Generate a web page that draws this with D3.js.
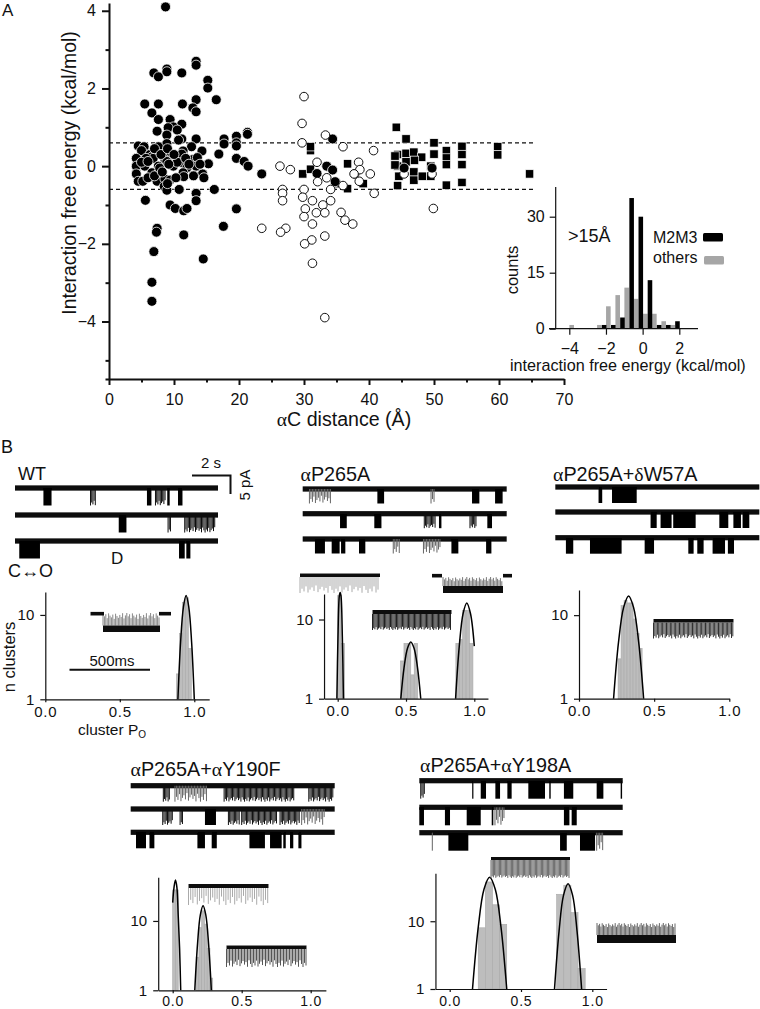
<!DOCTYPE html>
<html><head><meta charset="utf-8">
<style>
html,body{margin:0;padding:0;background:#fff}
svg{display:block}
text{font-family:"Liberation Sans",Arial,sans-serif;fill:#111}
.sym{font-family:"Liberation Serif",serif}
</style>
<script src="https://cdn.jsdelivr.net/npm/d3@7/dist/d3.min.js"></script>
</head><body><svg id="c" width="760" height="1009"></svg>
<script>
// ---------- panel A data: [distance Å, interaction free energy]
const filledCircles=[[8.7,4.1],[13.4,2.7],[13.4,2.6],[6.9,2.4],[8.9,2.5],[8.9,2.43],[7.6,2.3],[11.2,2.4],[15.2,2.21],[15.2,2.01],[5.5,1.6],[7.6,1.6],[11.3,1.6],[13.4,1.71],[16.5,1.71],[6.6,1.37],[12.9,1.5],[13.4,1.4],[7.6,1.2],[9.4,1.2],[11.2,1.08],[9.9,1.01],[9.1,.99],[10.5,.93],[7.4,.9],[8.9,.8],[13.4,.7],[11.2,.7],[10.7,.67],[17.7,.7],[19.6,.77],[21.3,.87],[21.3,.82],[8.9,.58],[17.7,.57],[19.6,.6],[19.6,.52],[4.5,.52],[5.4,.5],[7.6,.5],[12.7,.5],[5,.4],[11.4,.39],[14.3,.39],[16.9,.31],[6.3,.3],[6.6,.24],[9.4,.28],[11.2,.31],[4.2,.2],[6.8,.2],[8.6,.17],[8.9,.12],[12.9,.17],[13.6,.22],[19.6,.2],[20.8,.12],[11.2,.09],[4.2,0],[5.5,0],[7.6,0],[9.9,0],[13.4,0],[15.3,.06],[21.4,0],[12,-.04],[4.2,-.2],[6.6,-.17],[7.6,-.19],[11.4,-.17],[11.5,-.27],[14.4,-.2],[14.6,-.3],[23.5,-.2],[4.5,-.39],[5.2,-.39],[7.4,-.39],[8.6,-.33],[9.4,-.36],[8.5,-.52],[8.9,-.62],[10.8,-.6],[16.2,-.6],[13.4,-.7],[13.4,-.89],[5.6,-.88],[9.4,-1],[10.2,-1.09],[11.5,-1.15],[12,-1.09],[19.6,-1.1],[7.4,-1.6],[7.3,-1.7],[11.5,-1.77],[17.6,-1.55],[6.9,-2.2],[14.5,-2.39],[6.6,-2.99],[6.6,-3.48],[34.4,.7],[33.5,0],[34.4,-.1],[32,-.19],[34.8,-.4],
 [5.7,.2],[7,.45],[8,.3],[9,.45],[10.5,.1],[10,.3],[6,-.3],[7,-.25],[7.8,-.05],[10.3,-.3],[9,-.45],[5,.1],[11.8,.2],[12.3,.05],[8.2,-.15],[6,.12],[9.2,.05],[13,-.25],[14,.05]];
const openCircles=[[30,1.79],[29.7,1.1],[29.7,.6],[33.3,.8],[36,.5],[26.3,0],[27.9,-.09],[32,.1],[38.4,.1],[37.8,-.2],[38.5,-.39],[33.5,-.3],[32.1,-.4],[36,-.5],[34.1,-.6],[30,-.6],[26.7,-.6],[26.7,-.7],[26.7,-.89],[29.8,-.8],[31.3,-.89],[34.1,-.89],[32.9,-1],[30.2,-1.1],[31.9,-1.2],[33.2,-1.2],[35.7,-1.19],[30,-1.3],[36.3,-1.39],[31.3,-1.49],[37.5,-1.49],[23.5,-1.6],[27.2,-1.6],[26.4,-1.7],[33.2,-1.8],[31.2,-1.9],[30.1,-2],[31.3,-2.5],[33.2,-3.9],[40.7,.4],[38.6,-.09],[37.7,-.2],[40.2,-.2],[40.8,-.7],[49.9,-1.09],[45.4,-.2],[49.7,-.2]];
const filledOnTop=[[45.4,-.05],[49.7,-.05]];
const squares=[[44.2,1],[45.7,.7],[50,.6],[54.3,.51],[59.8,.5],[59.8,.29],[44.4,.3],[45.7,.33],[46.9,.36],[48.1,.23],[50,.31],[51.9,.4],[51.9,.21],[51.9,.04],[54.3,.3],[54.3,.04],[36.7,.06],[45.7,.11],[47,.15],[44.4,0],[46.9,-.15],[46.9,-.36],[48.2,-.26],[44.6,-.26],[49.5,-.26],[49.5,0],[44.4,-.5],[51.9,-.49],[54.3,-.42],[64.7,-.2],[39.1,-.45],[36.7,-.58],[44,.26],[44,.03],[31,.4],[31,.5],[29.8,-.2],[31,-.08],[35,-.45]];
const thresholds=[.6,-.6];
const xTicksA=[0,10,20,30,40,50,60,70];
const xMinorA=[5,15,25,35,45,55,65];
const yTicksA=[-4,-2,0,2,4];
const yMinorA=[-5.48,-5,-3,-1,1,3];
// inset histogram [energy bin centre, count]
const m2m3Bins=[[-2.1,1],[-1.6,1],[-1.1,3],[-.6,35],[-.1,30],[.4,13],[.9,1],[1.4,1],[1.9,2]];
const otherBins=[[-3.87,1],[-2.36,1],[-1.87,6],[-1.36,9],[-.87,11],[-.36,8],[.15,4],[.64,4],[1.15,2],[1.64,1]];
const insetBinWidth=.25;
// ---------- panel B traces: [start %, end %, kind] s solid, f flicker, g faint
const wtTraces=[[[14,18,'s'],[37.2,39.8,'f'],[65,67.2,'s'],[69.2,74.1,'f'],[75,76.2,'s'],[80.3,82.5,'s']],[[51.1,54.9,'s'],[75.4,76.6,'f'],[83.6,98.4,'f']],[[2.1,12.3,'s'],[80.8,83.6,'s'],[84.4,86.4,'s']]];
const p265Traces=[[[3.3,14.2,'g'],[36.6,39.9,'s'],[62.9,65,'g'],[83,86.6,'s'],[94.3,98,'s']],[[18.3,21.6,'s'],[35.1,38.6,'s'],[59.6,65,'f'],[66.8,68,'s'],[82,85.3,'f'],[90.5,92.8,'s']],[[6,10.9,'s'],[14.2,18.1,'s'],[18.8,20.9,'s'],[27.6,30.7,'s'],[44.4,48,'g'],[59.2,67.3,'g'],[72.9,76.3,'s'],[89.9,92.5,'s']]];
const w57Traces=[[[21.2,23,'s'],[27.8,39.9,'s']],[[46.7,49.7,'s'],[51.6,57,'s'],[57.8,68.8,'s'],[80.4,84.8,'s'],[87.3,91,'s'],[91.8,95.1,'s']],[[5.2,8.8,'s'],[17,32.5,'s'],[43.8,48.4,'s'],[65.2,67.8,'s'],[69.6,72.7,'s'],[77.1,83.2,'s'],[84.6,87.6,'s']]];
const y190Traces=[[[16,19,'f'],[21.7,37.6,'g'],[45.8,80.1,'f'],[87.3,99.3,'f']],[[15.7,20.6,'f'],[24.2,25.8,'f'],[36.4,41.8,'s'],[47.9,53.3,'f'],[54.4,71.6,'f'],[73.2,83,'f'],[83.8,95.3,'g']],[[2.6,7.5,'s'],[9.2,11.6,'s'],[32.7,36.4,'s'],[39.7,42.2,'s'],[58.2,65.8,'s'],[68.3,74,'s'],[74.8,76,'s'],[78.1,79.7,'s'],[82.2,83.7,'s']]];
const y198Traces=[[[.7,2.6,'f'],[26,26.6,'s'],[30.2,32.8,'s'],[37.4,39.7,'s'],[43.3,45.4,'s'],[53.6,61.8,'s'],[63.9,64.6,'s'],[71.1,75.7,'s'],[87.2,90.5,'s'],[99,99.7,'s']],[[0,2.3,'s'],[12.6,15.1,'s'],[23.3,30.2,'s'],[35.6,36.4,'s'],[37.2,42.1,'g'],[71.1,73.8,'s'],[74.9,77.4,'s']],[[6.4,6.7,'g'],[14.3,24.1,'s'],[69.2,72.5,'s'],[79,86.4,'s'],[87.2,90.5,'g']]];
// ---------- cluster Po histograms: bars [left edge, count]; fits [Po, count]
const wtBars=[[.88,2],[.90,6],[.92,14],[.94,16],[.96,4]];
const wtFits=[[[.89,1],[.908,4.75],[.927,12.4],[.945,17],[.963,12.4],[.982,4.75],[1,1]]];
const p265Bars=[[0,20],[.025,5],[.46,3],[.485,5],[.51,5],[.535,2],[.56,5],[.865,5],[.89,5.6],[.915,13],[.94,13],[.965,5]];
const p265Fits=[[[-.006,1],[.002,6],[.012,20],[.018,22],[.024,20],[.034,6],[.042,1]],[[.462,1],[.486,2.48],[.511,4.34],[.535,5.2],[.559,4.34],[.584,2.48],[.608,1]],[[.863,1],[.89,4.62],[.918,11.9],[.945,16.2],[.972,11.9],[1,4.62]]];
const w57Bars=[[.26,3],[.28,13],[.30,15],[.32,14],[.34,14],[.36,9],[.38,6],[.40,4]];
const w57Fits=[[[.23,1],[.263,4.75],[.297,12.4],[.33,17],[.363,12.4],[.397,4.75],[.43,1]]];
const y190Bars=[[0,28],[.02,28],[.17,3],[.19,8],[.21,14],[.23,9],[.25,4],[.27,1.5]];
const y190Fits=[[[0,18.4],[.01,31],[.02,39],[.03,31],[.04,12],[.05,4],[.058,1]],[[.16,1],[.18,4.67],[.2,12.1],[.22,16.5],[.24,12.1],[.26,4.67],[.28,1]]];
const y198Bars=[[.2,8],[.25,38],[.3,17.5],[.35,9],[.75,25],[.8,34],[.85,13.4],[.9,2]];
const y198Fits=[[[.16,1],[.2,8.1],[.24,29.4],[.28,44.7],[.32,29.4],[.36,8.1],[.4,1]],[[.735,1],[.767,7.15],[.798,24.1],[.83,35.7],[.862,24.1],[.893,7.15],[.925,1]]];
const poTicks=[0,.5,1];
const countTicks=[1,10];
// relative lengths of the flicker spikes seen in the close-ups
const spikeLengths=[1,.62,.86,.41,.96,.7,.5,.82,.33,.92,.66,.45,.78,.55,.98,.38,.72];

// ---------- drawing
const svg=d3.select('#c');
const defs=svg.append('defs');
defs.append('filter').attr('id','soft').attr('x','-5%').attr('y','-20%').attr('width','110%').attr('height','140%')
  .append('feGaussianBlur').attr('stdDeviation',.45);

function label(x,y,t,size,anchor,rot){
  const e=svg.append('text').attr('x',x).attr('y',y).attr('font-size',size).attr('text-anchor',anchor||'start').text(t);
  if(rot) e.attr('transform',`rotate(-90 ${x} ${y})`);
  return e;
}
function rich(x,y,parts,size,anchor){
  const e=svg.append('text').attr('x',x).attr('y',y).attr('font-size',size).attr('text-anchor',anchor||'start');
  parts.forEach(p=>{const t=e.append('tspan').text(p[0]); if(p[1]) t.attr('class','sym');});
  return e;
}
function styleAxis(g,w,fs){
  g.selectAll('path,line').attr('stroke','#111').attr('stroke-width',w);
  g.selectAll('text').attr('font-size',fs).attr('fill','#111');
}
// --- Panel A
const xA=d3.scaleLinear().domain([0,70]).range([109,564]);
const yA=d3.scaleLinear().domain([-5.48,4.2]).range([379,3]);
label(2,16,'A',17);
svg.append('g').selectAll('line').data(thresholds).join('line')
  .attr('x1',xA(0)).attr('x2',535).attr('y1',yA).attr('y2',yA)
  .attr('stroke','#111').attr('stroke-width',1.2).attr('stroke-dasharray','4 3');
const sqSize=8.4;
svg.append('g').selectAll('rect').data(squares).join('rect')
  .attr('x',d=>xA(d[0])-sqSize/2).attr('y',d=>yA(d[1])-sqSize/2).attr('width',sqSize).attr('height',sqSize)
  .attr('fill','#000').attr('stroke','#fff').attr('stroke-width',.7);
function dots(data,fill,stroke,sw,r){
  svg.append('g').selectAll('circle').data(data).join('circle')
   .attr('cx',d=>xA(d[0])).attr('cy',d=>yA(d[1])).attr('r',r)
   .attr('fill',fill).attr('stroke',stroke).attr('stroke-width',sw);
}
dots(filledCircles,'#000','#fff',.8,5);
dots(openCircles,'#fff','#111',1,4.3);
dots(filledOnTop,'#000','#fff',.8,5);
const axXA=svg.append('g').attr('transform',`translate(0,${yA(-5.48)})`)
  .call(d3.axisBottom(xA).tickValues(xTicksA).tickSize(6).tickSizeOuter(0));
styleAxis(axXA,2,16);axXA.selectAll('text').attr('dy','17px');
const axXAm=svg.append('g').attr('transform',`translate(0,${yA(-5.48)})`)
  .call(d3.axisBottom(xA).tickValues(xMinorA).tickSize(3.5).tickSizeOuter(0).tickFormat(''));
styleAxis(axXAm,2,16);axXAm.select('.domain').remove();
const axYA=svg.append('g').attr('transform',`translate(${xA(0)},0)`)
  .call(d3.axisLeft(yA).tickValues(yTicksA).tickSize(7).tickSizeOuter(0).tickFormat(d3.format('d')));
styleAxis(axYA,2,16);axYA.selectAll('text').attr('dx','-3');
const axYAm=svg.append('g').attr('transform',`translate(${xA(0)},0)`)
  .call(d3.axisLeft(yA).tickValues(yMinorA).tickSize(3.5).tickSizeOuter(0).tickFormat(''));
styleAxis(axYAm,2,16);axYAm.select('.domain').remove();
label(76,173,'Interaction free energy (kcal/mol)',19.4,'middle',true);
rich(344,426,[['α',1],['C distance (Å)']],19.6,'middle');
// inset histogram
const xI=d3.scaleLinear().domain([-4,2]).range([569.3,679.3]);
const yI=d3.scaleLinear().domain([0,30]).range([328.7,216.7]);
const iw=xI(insetBinWidth)-xI(0);
function ibars(data,fill){
  svg.append('g').selectAll('rect').data(data).join('rect')
   .attr('x',d=>xI(d[0])-iw/2).attr('width',iw).attr('y',d=>yI(d[1])).attr('height',d=>yI(0)-yI(d[1])).attr('fill',fill);
}
ibars(otherBins,'#a6a6a6');ibars(m2m3Bins,'#000');
svg.append('line').attr('x1',549).attr('x2',698).attr('y1',yI(0)).attr('y2',yI(0)).attr('stroke','#111').attr('stroke-width',1.2);
svg.append('line').attr('x1',555.7).attr('x2',555.7).attr('y1',187).attr('y2',yI(0)).attr('stroke','#111').attr('stroke-width',1.2);
const axXI=svg.append('g').attr('transform',`translate(0,${yI(0)})`)
 .call(d3.axisBottom(xI).tickValues([-4,-2,0,2]).tickSize(6).tickSizeOuter(0).tickFormat(d3.format('d')));
styleAxis(axXI,1.2,16);axXI.select('.domain').remove();axXI.selectAll('text').attr('dy','16px');
const axYI=svg.append('g').attr('transform','translate(555.7,0)')
 .call(d3.axisLeft(yI).tickValues([0,15,30]).tickSize(6).tickSizeOuter(0));
styleAxis(axYI,1.2,16);axYI.select('.domain').remove();axYI.selectAll('text').attr('dx','-2');
label(510,371,'interaction free energy (kcal/mol)',16.2);
label(518,270,'counts',16.5,'middle',true);
label(568,242,'>15Å',18);
label(653,243,'M2M3',16);label(653,263,'others',16);
svg.append('rect').attr('x',703).attr('y',233).attr('width',20).attr('height',8.5).attr('rx',1.5).attr('fill','#000');
svg.append('rect').attr('x',704).attr('y',256).attr('width',20).attr('height',8.5).attr('rx',1.5).attr('fill','#a6a6a6');
// --- Panel B labels
label(1,453,'B',18);
label(18,480,'WT',18);
label(8,577,'C↔O',18);
label(111,564,'D',17);
label(211,468,'2 s',15,'middle');
svg.append('path').attr('d','M192 475.5H230.5V494').attr('fill','none').attr('stroke','#111').attr('stroke-width',2);
label(250,485,'5 pA',15,'middle',true);
label(112,666,'500ms',15,'middle');
svg.append('line').attr('x1',69.5).attr('x2',150).attr('y1',669.7).attr('y2',669.7).attr('stroke','#111').attr('stroke-width',2);
rich(300.5,481,[['α',1],['P265A']],19.8);
rich(553,481,[['α',1],['P265A+'],['δ',1],['W57A']],19.8);
rich(130.5,776,[['α',1],['P265A+'],['α',1],['Y190F']],19.8);
rich(420,772,[['α',1],['P265A+'],['α',1],['Y198A']],19.8);
label(15,657,'n clusters',16.5,'middle',true);
const po=svg.append('text').attr('x',112).attr('y',735).attr('font-size',15.5).attr('text-anchor','middle').text('cluster P');
po.append('tspan').attr('font-size',10).attr('dy',3).text('O');

// spikes: dir +1 hanging down from y, -1 rising up
function spikes(g,x0,x1,y,dir,reach,color,step,minLen){
  const xs=d3.range(x0,x1,step);
  g.selectAll(null).data(xs).join('line')
   .attr('x1',d=>d).attr('x2',d=>d).attr('y1',y)
   .attr('y2',(d,i)=>{const v=spikeLengths[i%spikeLengths.length];return y+dir*reach*(minLen+(1-minLen)*v);})
   .attr('stroke',color).attr('stroke-width',1);
}
function traces(rows,x0,x1,ys,depth){
  const x=d3.scaleLinear().domain([0,100]).range([x0,x1]);
  const g0=svg.append('g').attr('filter','url(#soft)');
  rows.forEach((row,i)=>{
    g0.append('rect').attr('x',x(0)).attr('width',x(100)-x(0)).attr('y',ys[i]-2.6).attr('height',5.2).attr('fill','#0a0a0a');
    const g=g0.append('g');
    row.forEach(d=>{
      if(d[2]==='s') g.append('rect').attr('x',x(d[0])).attr('width',x(d[1])-x(d[0])).attr('y',ys[i]).attr('height',depth).attr('fill','#050505');
      else if(d[2]==='f'){ const h=g.append('g'); spikes(h,x(d[0]),x(d[1]),ys[i],1,depth,'#111',1.2,.55);}
      else { const h=g.append('g'); spikes(h,x(d[0]),x(d[1]),ys[i],1,depth,'#666',1.5,.2);}
    });
  });
}
traces(wtTraces,15,218,[488,515,541],17.5);
traces(p265Traces,302.7,506.7,[489,513.7,539],14.5);
traces(w57Traces,555.3,759.3,[487,512,537.7],16);
traces(y190Traces,130.7,334.7,[785.7,809,832.3],16);
traces(y198Traces,419.3,622.7,[780.7,807.3,832.7],18);

function histogram(bars,fits,binW,o){
  const x=d3.scaleLinear().domain([0,1]).range([o.x0,o.x1]);
  const y=d3.scaleLog().domain([1,o.topCount]).range([o.base,o.top]);
  svg.append('g').selectAll('rect').data(bars).join('rect')
   .attr('x',d=>x(d[0])).attr('width',x(binW)-x(0)).attr('y',d=>y(d[1])).attr('height',d=>y(1)-y(d[1]))
   .attr('fill','#bdbdbd').attr('stroke','#a9a9a9').attr('stroke-width',.6);
  const ln=d3.line().x(d=>x(d[0])).y(d=>y(d[1])).curve(d3.curveCatmullRom);
  svg.append('g').selectAll('path').data(fits).join('path').attr('d',ln)
   .attr('fill','none').attr('stroke','#000').attr('stroke-width',1.5);
  const xs=x.copy().domain([o.xmin,o.xmax]).range([x(o.xmin),x(o.xmax)]);
  const ax=svg.append('g').attr('transform',`translate(0,${o.base})`)
   .call(d3.axisBottom(xs).tickValues(poTicks).tickSize(3).tickSizeOuter(0).tickFormat(d3.format('.1f')));
  styleAxis(ax,1.2,o.fs||15);
  ax.selectAll('text').attr('dy',o.lab+'px').attr('letter-spacing','.8px');
  const ay=svg.append('g').attr('transform',`translate(${x(o.xmin)},0)`)
   .call(d3.axisLeft(y).tickValues(countTicks).tickSize(5).tickSizeOuter(0).tickFormat(d3.format('d')));
  styleAxis(ay,1.2,15);
  ay.selectAll('text').attr('dx','-3');
}
histogram(wtBars,wtFits,.02,{x0:45.3,x1:194.3,xmin:0,xmax:1.1,base:699.3,top:592,topCount:18.7,lab:12});
histogram(p265Bars,p265Fits,.025,{x0:337.7,x1:474.3,xmin:-.1,xmax:1.1,base:698.7,top:594,topCount:21,lab:11.5});
histogram(w57Bars,w57Fits,.02,{x0:579,x1:729.3,xmin:0,xmax:1,base:698.7,top:590,topCount:20,lab:11.5});
histogram(y190Bars,y190Fits,.02,{x0:172.7,x1:310.7,xmin:-.105,xmax:1.11,base:990.3,top:877.3,topCount:42.6,lab:9.5,fs:14});
histogram(y198Bars,y198Fits,.05,{x0:449.7,x1:592.3,xmin:-.1,xmax:1.1,base:989,top:873.3,topCount:51,lab:10.5,fs:14});

// burst close-ups
function burst(o){
  const g=svg.append('g').attr('filter','url(#soft)');
  const hs=g.append('g');
  spikes(hs,o.x0,o.x1,o.dir>0?o.by1:o.by0,o.dir,o.reach,o.color,o.step||1.4,o.minLen||.3);
  g.append('rect').attr('x',o.x0).attr('y',o.by0).attr('width',o.x1-o.x0).attr('height',o.by1-o.by0).attr('fill','#111');
  (o.ends||[]).forEach(e=>g.append('rect').attr('x',e[0]).attr('y',e[2]-1.8).attr('width',e[1]-e[0]).attr('height',3.6).attr('fill','#111'));
}
burst({x0:103,x1:160,by0:625.5,by1:632,dir:-1,reach:12.5,color:'#888',ends:[[90.5,104,613.7],[159,171,613.7]]});
burst({x0:300,x1:380,by0:573.5,by1:577,dir:1,reach:16,color:'#aaa',step:2});
burst({x0:443,x1:503,by0:586,by1:593,dir:-1,reach:9,color:'#777',ends:[[432,442,575.7],[503,512,575.7]]});
burst({x0:372.5,x1:451.5,by0:610,by1:614,dir:1,reach:16,color:'#222',step:1.2,minLen:.7});
burst({x0:653.5,x1:733.5,by0:619,by1:622.5,dir:1,reach:16,color:'#333',step:1.3,minLen:.6});
burst({x0:188.5,x1:268.5,by0:884,by1:888,dir:1,reach:17,color:'#aaa',step:2.2,minLen:.2});
burst({x0:226.5,x1:306.5,by0:945.5,by1:949,dir:1,reach:18,color:'#555',step:1.5,minLen:.4});
burst({x0:491,x1:570,by0:857,by1:860,dir:1,reach:18,color:'#666',step:1.2,minLen:.75});
burst({x0:597,x1:676,by0:935,by1:943,dir:-1,reach:12,color:'#666',step:1.3,minLen:.5});
</script></body></html>
